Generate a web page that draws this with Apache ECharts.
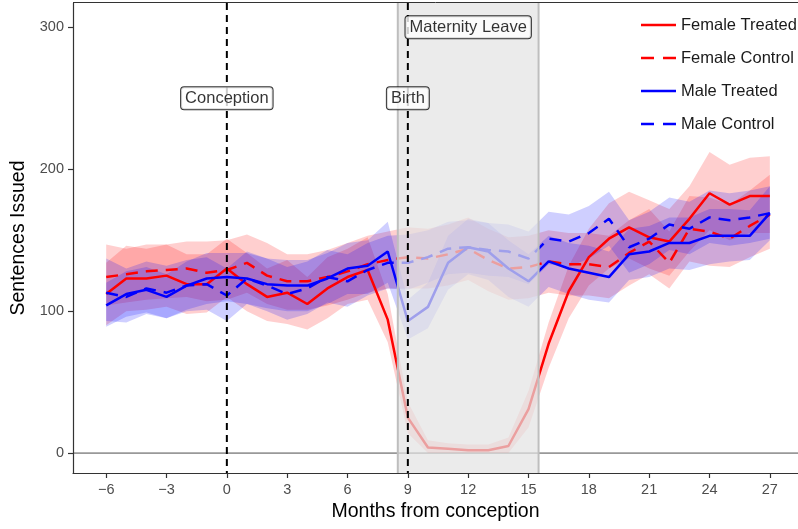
<!DOCTYPE html>
<html lang="en">
<head>
<meta charset="UTF-8">
<title>Sentences Issued</title>
<style>html,body{margin:0;padding:0;background:#fff;}</style>
</head>
<body>
<div id="main" style="width:798px;height:529px;"></div>
<script src="https://cdn.jsdelivr.net/npm/echarts@6/dist/echarts.min.js"></script>
<script>
// months from conception
var months = [-6,-5,-4,-3,-2,-1,0,1,2,3,4,5,6,7,8,9,10,11,12,13,14,15,16,17,18,19,20,21,22,23,24,25,26,27];

var femaleTreated = [112,123,123,125,119,119,130,119,110,113,105,116,124,129,94,25,4,3,2,2,5,31,77,114,138,151,159,152,149,165,183,175,181,181];
var femaleTreatedLo = [90,100,101,103,98,99,110,100,93,91,87,95,105,108,78,14,0,0,0,0,0,18,60,95,118,130,137,130,125,142,157,150,155,155];
var femaleTreatedHi = [134,146,144,147,140,140,151,141,130,136,124,138,144,152,112,36,9,7,6,6,11,44,92,132,158,176,184,178,172,188,212,203,208,209];

var femaleControl = [124,126,128,129,130,127,129,134,125,121,121,124,128,133,136,138,137,140,144,136,130,131,135,133,133,131,141,149,134,158,156,151,160,168];
var femaleControlLo = [104,106,108,109,110,107,108,113,105,101,101,104,108,113,116,116,116,118,122,114,108,109,113,111,111,109,118,126,116,135,132,131,138,144];
var femaleControlHi = [147,144,147,147,149,149,150,154,148,140,140,143,148,153,156,159,158,161,166,158,152,153,157,155,155,153,164,172,156,181,180,175,185,196];

var maleTreated = [104,112,115,110,118,123,124,123,119,118,118,123,130,132,142,93,103,134,145,142,130,121,135,130,127,124,140,142,148,148,153,153,153,169];
var maleTreatedLo = [89,96,99,95,101,105,107,105,102,100,100,105,112,112,120,80,88,115,126,122,110,103,117,112,108,106,122,124,130,129,133,135,136,150];
var maleTreatedHi = [120,128,131,126,135,141,141,141,137,136,136,141,148,150,163,108,120,153,165,162,150,140,153,148,146,142,158,160,166,166,172,172,171,188];

var maleControl = [113,110,116,113,118,119,111,123,118,112,116,124,121,129,134,134,138,144,145,143,142,137,151,149,155,165,145,151,161,158,166,164,166,169];
var maleControlLo = [93,92,98,95,100,101,93,105,100,94,98,106,103,111,116,115,120,126,127,125,124,119,133,131,137,146,127,133,143,140,148,146,148,151];
var maleControlHi = [137,130,135,132,136,138,130,142,137,131,135,143,140,148,153,154,157,163,164,162,161,156,170,168,174,184,164,170,180,177,185,183,185,188];

var xTicks = [-6,-3,0,3,6,9,12,15,18,21,24,27];
var yTicks = [0,100,200,300];

var leave = [8.5, 15.5];
var vlines = [0, 9];
var notes = ['Conception','Birth','Maternity Leave'];
var noteX = [0, 9, 12];
var noteY = [250, 250, 300];

var legendNames = ['Female Treated','Female Control','Male Treated','Male Control'];
var legendColors = ['#ff0000','#ff0000','#0000ff','#0000ff'];
var legendDashed = [false, true, false, true];

var Y_MIN = -14, Y_MAX = 317;
var font = 'Liberation Sans, Arial, sans-serif';

function zip(xs, ys) {
    var res = [];
    for (var i = 0; i < xs.length; i++) res.push([xs[i], ys[i]]);
    return res;
}

// confidence band drawn as one polygon
function ribbon(lo, hi, color) {
    return {
        type: 'custom',
        silent: true,
        z: 1,
        renderItem: function (params, api) {
            if (params.dataIndex !== 0) return;
            var pts = [];
            for (var i = 0; i < months.length; i++) pts.push(api.coord([months[i], hi[i]]));
            for (var j = months.length - 1; j >= 0; j--) pts.push(api.coord([months[j], lo[j]]));
            return {type: 'polygon', shape: {points: pts}, style: {fill: color}};
        },
        data: zip(months, lo)
    };
}

function line(name, vals, color, dashed) {
    return {
        name: name,
        type: 'line',
        data: zip(months, vals),
        symbol: 'none',
        z: 2,
        itemStyle: {color: color},
        lineStyle: {color: color, width: 2.5, type: dashed ? [12, 8] : 'solid'}
    };
}

// hand drawn legend (line keys, no markers)
var legendGraphics = [];
for (var k = 0; k < legendNames.length; k++) {
    var ly = 25 + k * 33;
    legendGraphics.push({
        type: 'line', z: 100,
        shape: {x1: 641, y1: ly, x2: 676, y2: ly},
        style: {stroke: legendColors[k], lineWidth: 2.5, lineDash: legendDashed[k] ? [13, 9] : null}
    });
    legendGraphics.push({
        type: 'text', z: 100, x: 681, y: ly,
        style: {text: legendNames[k], font: '16.5px ' + font, fill: '#1a1a1a', verticalAlign: 'middle'}
    });
}
legendGraphics.push({
    type: 'line', z: 100,
    shape: {x1: 73, y1: 2.5, x2: 798, y2: 2.5},
    style: {stroke: '#333', lineWidth: 1}
});

var chart = echarts.init(document.getElementById('main'));

chart.setOption({
    animation: false,
    grid: {left: 73, right: 0, top: 3, bottom: 56},
    xAxis: {
        type: 'value',
        min: -7.65,
        max: 28.4,
        name: 'Months from conception',
        nameLocation: 'middle',
        nameGap: 28,
        nameTextStyle: {fontFamily: font, fontSize: 19.5, color: '#000', verticalAlign: 'top'},
        axisLine: {show: true, onZero: false, lineStyle: {color: '#333', width: 1.2}},
        axisTick: {show: true, length: 5, customValues: xTicks, lineStyle: {color: '#333', width: 1.2}},
        axisLabel: {
            customValues: xTicks, margin: 9,
            fontFamily: font, fontSize: 14.5, color: '#4d4d4d',
            formatter: function (v) { return v < 0 ? '\u2212' + Math.abs(v) : String(v); }
        },
        splitLine: {show: false}
    },
    yAxis: {
        type: 'value',
        min: Y_MIN,
        max: Y_MAX,
        name: 'Sentences Issued',
        nameLocation: 'middle',
        nameGap: 42,
        nameTextStyle: {fontFamily: font, fontSize: 19.5, color: '#000'},
        axisLine: {show: true, onZero: false, lineStyle: {color: '#333', width: 1.2}},
        axisTick: {show: true, length: 5, customValues: yTicks, lineStyle: {color: '#333', width: 1.2}},
        axisLabel: {customValues: yTicks, margin: 9, fontFamily: font, fontSize: 14.5, color: '#4d4d4d'},
        splitLine: {show: false}
    },
    graphic: legendGraphics,
    series: [
        // zero line
        {
            type: 'custom', silent: true, z: 0,
            renderItem: function (params, api) {
                var a = api.coord([-7.65, 0]), b = api.coord([28.4, 0]);
                return {type: 'line', shape: {x1: a[0], y1: a[1], x2: b[0], y2: b[1]},
                        style: {stroke: '#999', lineWidth: 1.6}};
            },
            data: [[0, 0]]
        },
        ribbon(femaleTreatedLo, femaleTreatedHi, 'rgba(255,0,0,0.19)'),
        ribbon(femaleControlLo, femaleControlHi, 'rgba(255,0,0,0.19)'),
        ribbon(maleTreatedLo, maleTreatedHi, 'rgba(0,0,255,0.19)'),
        ribbon(maleControlLo, maleControlHi, 'rgba(0,0,255,0.19)'),
        line('Female Treated', femaleTreated, '#ff0000', false),
        line('Female Control', femaleControl, '#ff0000', true),
        line('Male Treated', maleTreated, '#0000ff', false),
        line('Male Control', maleControl, '#0000ff', true),
        // maternity leave shading, drawn over the lines
        {
            type: 'custom', silent: true, z: 3,
            renderItem: function (params, api) {
                var a = api.coord([leave[0], Y_MAX]), b = api.coord([leave[1], Y_MIN]);
                return {type: 'group', children: [
                    {type: 'rect', shape: {x: a[0], y: a[1], width: b[0] - a[0], height: b[1] - a[1]},
                     style: {fill: 'rgba(226,226,226,0.7)'}},
                    {type: 'line', shape: {x1: a[0], y1: a[1], x2: a[0], y2: b[1]},
                     style: {stroke: '#bebebe', lineWidth: 2}},
                    {type: 'line', shape: {x1: b[0], y1: a[1], x2: b[0], y2: b[1]},
                     style: {stroke: '#bebebe', lineWidth: 2}}
                ]};
            },
            data: [[leave[0], 0]]
        },
        // conception / birth lines
        {
            type: 'custom', silent: true, z: 4,
            renderItem: function (params, api) {
                var v = vlines[params.dataIndex];
                var a = api.coord([v, Y_MAX]), b = api.coord([v, Y_MIN]);
                return {type: 'line', shape: {x1: a[0], y1: a[1], x2: b[0], y2: b[1]},
                        style: {stroke: '#000', lineWidth: 2, lineDash: [7, 5]}};
            },
            data: zip(vlines, [0, 0])
        },
        // annotation boxes
        {
            type: 'scatter', silent: true, z: 5,
            symbolSize: 0,
            data: zip(noteX, noteY),
            label: {
                show: true, position: 'inside',
                formatter: function (p) { return notes[p.dataIndex]; },
                fontFamily: font, fontSize: 16.5, color: '#000',
                backgroundColor: '#fff', borderColor: '#000', borderWidth: 1, borderRadius: 3,
                padding: [3, 4, 2, 4]
            }
        }
    ]
});
</script>
</body>
</html>
